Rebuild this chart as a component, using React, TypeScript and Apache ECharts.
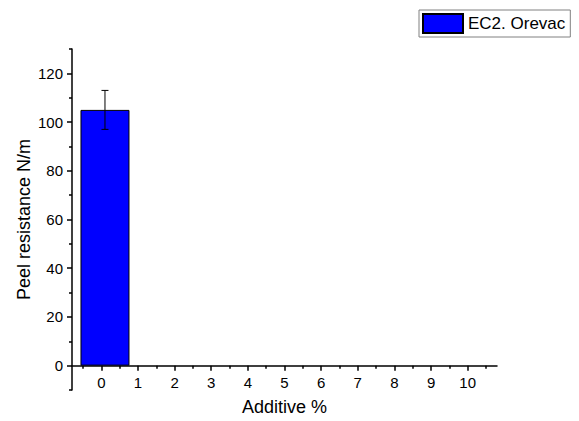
import React, { useEffect, useRef } from "react";
import * as echarts from "echarts";

const seriesName = "EC2. Orevac";
const barX = [0.1];
const barValues = [105];
const barErrors = [8];

const xMajorTicks = [0, 1, 2, 3, 4, 5, 6, 7, 8, 9, 10];
const xMinorTicks = [-0.5, 0.5, 1.5, 2.5, 3.5, 4.5, 5.5, 6.5, 7.5, 8.5, 9.5, 10.5];
const yMajorTicks = [0, 20, 40, 60, 80, 100, 120];
const yMinorTicks = [-10, 10, 30, 50, 70, 90, 110, 130];

const xMin = -0.8;
const xMax = 10.8;
const yMin = -10;
const yMax = 130;

const FONT = "'Liberation Sans', Arial, sans-serif";

export default function App() {
  const ref = useRef<HTMLDivElement>(null);
  useEffect(() => {
    if (!ref.current) return;
    const chart = echarts.init(ref.current, null, { renderer: "svg" });
    const lineStyle = { color: "#000", width: 1.5 };
    const gridTop = 49;
    const gridBottom = 31;
    const plotH = 421 - gridTop - gridBottom;
    // place the x axis on y = 0 (inside the grid)
    const xOffset = -((0 - yMin) / (yMax - yMin)) * plotH;
    const option: any = {
      animation: false,
      backgroundColor: "#fff",
      textStyle: { fontFamily: FONT },
      grid: { left: 72, right: 82, top: gridTop, bottom: gridBottom, containLabel: false, outerBoundsMode: "none" },
      legend: {
        data: [seriesName],
        left: 419,
        top: 10,
        orient: "horizontal",
        borderColor: "#808080",
        borderWidth: 1,
        borderRadius: 0,
        padding: [3, 5, 3, 3],
        itemWidth: 40,
        itemHeight: 19,
        itemGap: 5,
        icon: "rect",
        selectedMode: false,
        textStyle: { fontSize: 17, color: "#000", fontFamily: FONT },
      },
      xAxis: [
        {
          type: "value",
          min: xMin,
          max: xMax,
          position: "bottom",
          offset: xOffset,
          name: "Additive %",
          nameLocation: "middle",
          nameGap: 32,
          nameMoveOverlap: false,
          nameTextStyle: { fontSize: 18, color: "#000", fontFamily: FONT },
          axisLine: { show: true, onZero: false, lineStyle },
          axisTick: { show: true, inside: false, length: 5, lineStyle, customValues: xMajorTicks },
          axisLabel: { show: true, margin: 9, fontSize: 15, color: "#000", fontFamily: FONT, customValues: xMajorTicks },
          splitLine: { show: false },
        },
        {
          type: "value",
          min: xMin,
          max: xMax,
          position: "bottom",
          offset: xOffset,
          axisLine: { show: false, onZero: false },
          axisTick: { show: true, inside: false, length: 3, lineStyle, customValues: xMinorTicks },
          axisLabel: { show: false, customValues: xMinorTicks },
          splitLine: { show: false },
        },
      ],
      yAxis: [
        {
          type: "value",
          min: yMin,
          max: yMax,
          position: "left",
          name: "Peel resistance N/m",
          nameLocation: "middle",
          nameGap: 39,
          nameMoveOverlap: false,
          nameTextStyle: { fontSize: 18, color: "#000", fontFamily: FONT },
          axisLine: { show: true, onZero: false, lineStyle },
          axisTick: { show: true, inside: false, length: 5, lineStyle, customValues: yMajorTicks },
          axisLabel: { show: true, margin: 9, fontSize: 15, color: "#000", fontFamily: FONT, customValues: yMajorTicks },
          splitLine: { show: false },
        },
        {
          type: "value",
          min: yMin,
          max: yMax,
          position: "left",
          axisLine: { show: false, onZero: false },
          axisTick: { show: true, inside: false, length: 3, lineStyle, customValues: yMinorTicks },
          axisLabel: { show: false, customValues: yMinorTicks },
          splitLine: { show: false },
        },
      ],
      series: [
        {
          name: seriesName,
          type: "bar",
          xAxisIndex: 0,
          yAxisIndex: 0,
          barWidth: 49,
          data: barX.map((x, i) => [x, barValues[i]]),
          itemStyle: { color: "#0000ff", borderColor: "#000", borderWidth: 1 },
        },
        {
          name: "error",
          type: "custom",
          xAxisIndex: 0,
          yAxisIndex: 0,
          data: barX.map((x, i) => [x, barValues[i] - barErrors[i], barValues[i] + barErrors[i]]),
          renderItem: (params: any, api: any) => {
            const x = api.value(0);
            const lo = api.coord([x, api.value(1)]);
            const hi = api.coord([x, api.value(2)]);
            const cap = 3.5;
            const style = { stroke: "#000", lineWidth: 1 };
            return {
              type: "group",
              children: [
                { type: "line", shape: { x1: lo[0], y1: lo[1], x2: hi[0], y2: hi[1] }, style },
                { type: "line", shape: { x1: hi[0] - cap, y1: hi[1], x2: hi[0] + cap, y2: hi[1] }, style },
                { type: "line", shape: { x1: lo[0] - cap, y1: lo[1], x2: lo[0] + cap, y2: lo[1] }, style },
              ],
            };
          },
          z: 5,
        },
      ],
    };
    chart.setOption(option);
    return () => chart.dispose();
  }, []);
  return (
    <div
      ref={ref}
      style={{ position: "fixed", left: 0, top: 0, width: 579, height: 421, background: "#fff" }}
    />
  );
}
